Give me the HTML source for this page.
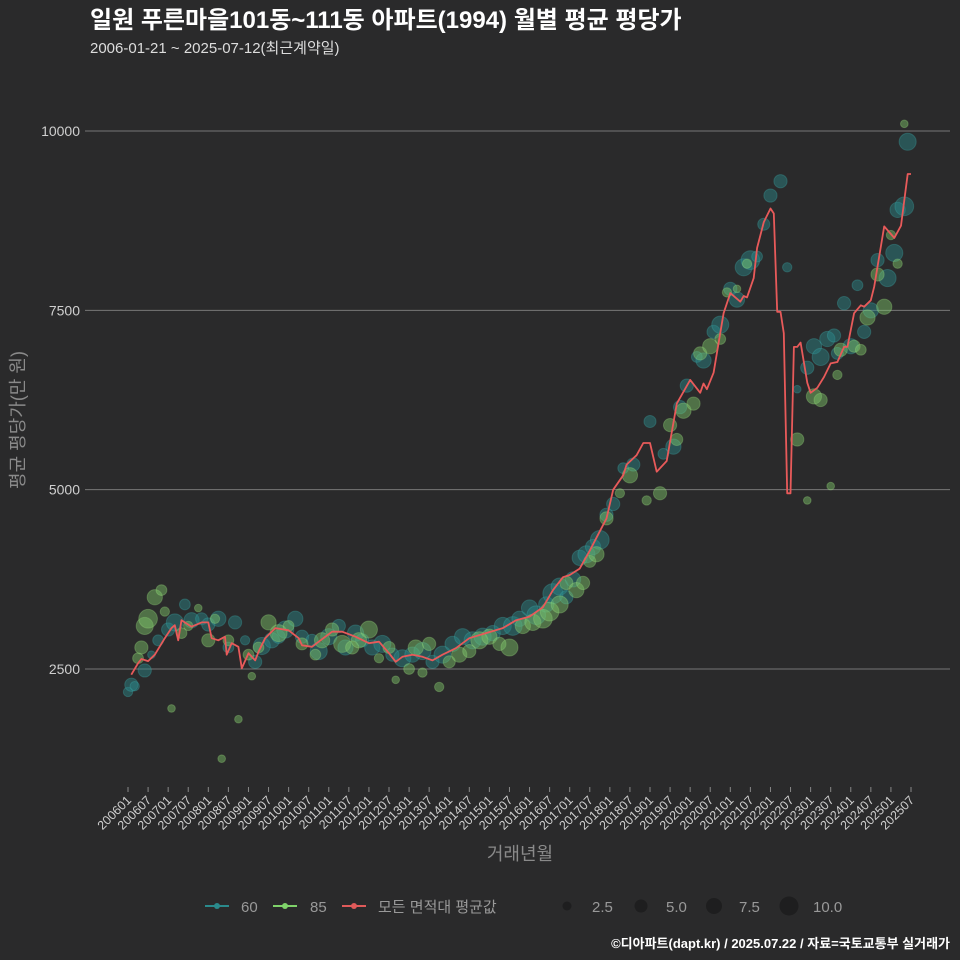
<!DOCTYPE html>
<html><head><meta charset="utf-8">
<style>
html,body{margin:0;padding:0;background:#2a2a2b;}
svg{display:block;font-family:"Liberation Sans","Noto Sans CJK KR",sans-serif;}
</style></head>
<body>
<svg id="chart" width="960" height="960" viewBox="0 0 960 960">
<rect x="0" y="0" width="960" height="960" fill="#2a2a2b"/>
<text x="90" y="28" fill="#ffffff" font-size="24" font-weight="bold">일원 푸른마을101동~111동 아파트(1994) 월별 평균 평당가</text>
<text x="90" y="53" fill="#dddddd" font-size="15">2006-01-21 ~ 2025-07-12(최근계약일)</text>
<g id="grid"></g>
<g id="bubbles60"></g>
<g id="bubbles85"></g>
<g id="avgline"></g>
<g id="xaxis"></g>
<text x="0" y="0" transform="translate(24,420) rotate(-90)" text-anchor="middle" fill="#8a8a8a" font-size="18">평균 평당가(만 원)</text>
<text x="520" y="860" text-anchor="middle" fill="#8a8a8a" font-size="18">거래년월</text>
<g font-size="15" fill="#999">
 <g><line x1="205" y1="906" x2="229" y2="906" stroke="#2a8a8c" stroke-width="2"/><circle cx="217" cy="906" r="3" fill="#2a8a8c"/><text x="241" y="912">60</text></g>
 <g><line x1="273" y1="906" x2="297" y2="906" stroke="#7fd36a" stroke-width="2"/><circle cx="285" cy="906" r="3" fill="#7fd36a"/><text x="310" y="912">85</text></g>
 <g><line x1="342" y1="906" x2="366" y2="906" stroke="#e05a5a" stroke-width="2"/><circle cx="354" cy="906" r="3" fill="#e05a5a"/><text x="378" y="912">모든 면적대 평균값</text></g>
 <g><circle cx="567" cy="906" r="4.5" fill="#1e1e1f"/><text x="592" y="912">2.5</text></g>
 <g><circle cx="641" cy="906" r="6.5" fill="#1e1e1f"/><text x="666" y="912">5.0</text></g>
 <g><circle cx="714" cy="906" r="8" fill="#1e1e1f"/><text x="739" y="912">7.5</text></g>
 <g><circle cx="789" cy="906" r="9.5" fill="#1e1e1f"/><text x="813" y="912">10.0</text></g>
</g>
<text x="950" y="948" text-anchor="end" fill="#ffffff" font-size="13" font-weight="bold">©디아파트(dapt.kr) / 2025.07.22 / 자료=국토교통부 실거래가</text>
</svg>
<script>
const yTicks = [2500, 5000, 7500, 10000];
const startYear = 2006;
const tickMonths = [];
for (let m = 0; m <= 234; m += 6) tickMonths.push(m);
const lineMonths = [1,3,4,6,8,11,13,14,15,16,19,22,24,25,27,29,29.5,31,33,34,36,38,39,41,44,48,51,52,55,57,61,64,68,72,75,78,80,82,85,88,91,94,98,102,107,112,116,120,124,127,130,132,135,138,143,145,148,149,152,154,156,158,161,164,168,171,172,173,175,178,180,183,184,185,187,188,190,192,193,194,195,196,197,198,199,200,201,203,204,206,208,210,212,214,215,217,219,220,222,223,226,229,231,233,234];
const lineValues = [2420,2580,2640,2610,2700,2930,3070,3110,2900,3180,3090,3150,3150,2930,2900,2950,2700,2860,2810,2510,2720,2620,2740,2930,3070,3040,2930,2830,2810,2880,3020,3020,2950,2860,2880,2720,2600,2670,2700,2670,2620,2700,2790,2930,3000,3070,3180,3230,3360,3600,3780,3810,3900,4150,4600,5000,5200,5350,5480,5650,5650,5250,5400,6200,6530,6350,6480,6400,6630,7460,7740,7620,7700,7680,7950,8370,8730,8920,8850,7480,7480,7180,4950,4950,6990,6990,7050,6490,6350,6420,6570,6760,6780,6990,6990,7460,7570,7550,7640,7830,8670,8510,8680,9400,9400];
const s60Months = [0,1,2,5,7,9,12,14,17,19,22,24,27,30,32,35,38,40,43,45,47,50,52,55,57,60,63,65,68,70,73,76,79,82,85,88,91,94,97,100,103,106,109,112,115,117,120,122,125,127,129,131,133,135,137,139,141,143,145,148,151,156,160,163,165,167,170,172,175,177,180,182,184,186,188,190,192,195,197,200,203,205,207,209,211,212,214,216,218,220,222,224,227,229,230,232,233];
const s60Values = [2180,2280,2260,2480,2700,2900,3050,3150,3400,3180,3200,3120,3200,2800,3150,2900,2600,2820,2900,2950,3050,3200,2950,2900,2750,2950,3100,2800,3000,2900,2800,2850,2700,2650,2700,2750,2600,2700,2850,2950,2900,2950,3000,3100,3100,3200,3350,3250,3400,3550,3650,3500,3750,4050,4100,4200,4300,4650,4800,5300,5350,5950,5500,5600,6150,6450,6850,6800,7200,7300,7800,7650,8100,8200,8250,8700,9100,9300,8100,6400,6700,7000,6850,7100,7150,6900,7600,7000,7850,7200,7500,8200,7950,8300,8900,8950,9850];
const s60Sizes = [3,6,3,6,2,4,6,10,4,8,5,6,8,4,6,3,6,10,8,6,10,8,6,5,10,9,6,8,9,6,8,10,6,10,8,10,6,10,8,9,10,10,8,10,12,8,9,12,8,14,10,6,8,8,10,8,12,6,6,4,6,5,4,8,6,6,4,8,6,10,6,8,10,12,4,5,6,6,3,2,6,8,10,8,6,5,6,8,4,6,8,6,10,10,8,12,10];
const s85Months = [3,4,5,6,8,10,11,13,16,18,21,24,26,28,30,33,36,37,39,42,45,48,52,56,58,61,64,67,69,72,75,78,80,84,86,88,90,93,96,99,102,105,108,111,114,118,121,124,126,129,131,134,136,138,140,143,147,150,155,159,162,164,166,169,171,174,177,179,182,185,200,203,205,207,210,212,213,217,219,221,224,226,228,230,232];
const s85Values = [2650,2800,3100,3200,3500,3600,3300,1950,3000,3100,3350,2900,3200,1250,2900,1800,2700,2400,2800,3150,3000,3100,2850,2700,2900,3050,2850,2800,2900,3050,2650,2800,2350,2500,2800,2450,2850,2250,2600,2700,2750,2900,2950,2850,2800,3100,3150,3200,3300,3400,3700,3600,3700,4000,4100,4600,4950,5200,4850,4950,5900,5700,6100,6200,6900,7000,7100,7750,7800,8150,5700,4850,6300,6250,5050,6600,6950,7000,6950,7400,8000,7550,8550,8150,10100];
const s85Sizes = [4,6,10,12,8,4,3,2,4,3,2,6,3,2,4,2,4,2,4,8,10,4,5,4,8,6,10,6,8,10,3,5,2,4,8,3,6,3,5,8,6,10,8,6,10,8,9,12,12,10,6,8,6,5,8,6,3,8,3,6,6,5,8,6,6,8,4,3,2,3,6,2,8,6,2,3,6,5,4,8,6,8,3,3,2];

const X0 = 128, X1 = 911, MMAX = 234;
function xScale(m){ return X0 + (X1 - X0) * m / MMAX; }
function yScale(v){ return 669 - (v - 2500) * (669 - 131) / 7500; }
function rScale(s){ return 2.7 * Math.sqrt(s); }
const NS = "http://www.w3.org/2000/svg";
function mk(tag, attrs, parent){ const e = document.createElementNS(NS, tag); for (const k in attrs) e.setAttribute(k, attrs[k]); parent.appendChild(e); return e; }

const grid = document.getElementById('grid');
yTicks.forEach(v => {
  const l = mk('line', {x1:85, x2:950, y1:yScale(v), y2:yScale(v), stroke:'#777', 'stroke-width':1}, grid);
  
  
  const t = mk('text', {x:80, y:yScale(v)+5, 'text-anchor':'end', fill:'#cfcfcf', 'font-size':14}, grid);
  t.textContent = v;
  
  
});

const xa = document.getElementById('xaxis');
tickMonths.forEach(m => {
  const x = xScale(m);
  const tk = mk('line', {x1:x, x2:x, y1:787, y2:792, stroke:'#888', 'stroke-width':1}, xa);
  
  
  const y = startYear + Math.floor(m/12), mo = (m % 12) + 1;
  const lab = '' + y + (mo < 10 ? '0' : '') + mo;
  const t = mk('text', {x:0, y:0, transform:`translate(${x+4},${801}) rotate(-45)`, 'text-anchor':'end', fill:'#cfcfcf', 'font-size':12.5}, xa);
  t.textContent = lab;
  
  
});

function drawBubbles(gid, ms, vs, ss, fill, stroke){
  const g = document.getElementById(gid);
  ms.forEach((m, i) => {
    const c = mk('circle', {cx:xScale(m), cy:yScale(vs[i]), r:rScale(ss[i]), fill:fill, 'fill-opacity':0.45, stroke:stroke, 'stroke-opacity':0.3, 'stroke-width':1}, g);
    
    
  });
}
drawBubbles('bubbles60', s60Months, s60Values, s60Sizes, '#2a8a8c', '#3fb0b0');
drawBubbles('bubbles85', s85Months, s85Values, s85Sizes, '#7fc86a', '#a0e080');

const pts = lineMonths.map((m, i) => xScale(m).toFixed(1) + ',' + yScale(lineValues[i]).toFixed(1)).join(' ');
const pl = mk('polyline', {points:pts, fill:'none', stroke:'#e85a5a', 'stroke-width':1.8, 'stroke-linejoin':'round'}, document.getElementById('avgline'));


</script>
</body></html>
